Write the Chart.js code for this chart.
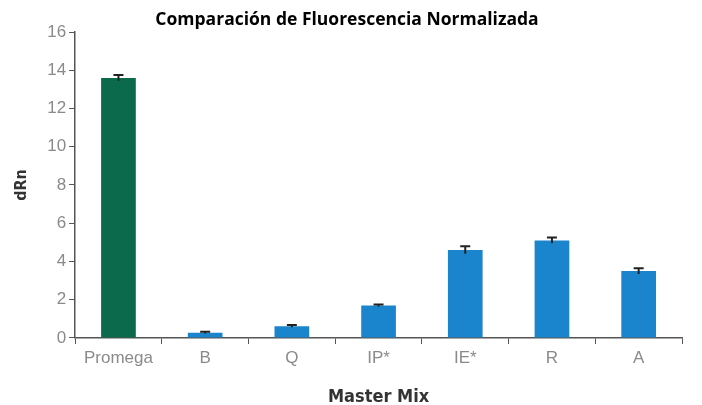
<!DOCTYPE html>
<html>
<head>
<meta charset="utf-8">
<script src="https://cdn.jsdelivr.net/npm/chart.js@4/dist/chart.umd.min.js"></script>
<style>
  html, body { margin: 0; padding: 0; background: #fff; }
  #wrap { width: 702px; height: 405px; position: relative; }
</style>
</head>
<body>
<div id="wrap"><canvas id="chart"></canvas></div>
<script>
// Datos
const mezclas = ['Promega', 'B', 'Q', 'IP*', 'IE*', 'R', 'A'];
const drn = [13.6, 0.28, 0.62, 1.7, 4.6, 5.1, 3.5];
const errores = [0.15, 0.04, 0.06, 0.05, 0.2, 0.15, 0.15];
const ticksY = [0, 2, 4, 6, 8, 10, 12, 14, 16];

const verde = '#0b6a4b';
const azul = '#1a84cc';
const gris = '#8a8a8a';
const estrecha = '"Liberation Sans Narrow", "DejaVu Sans Condensed", "Liberation Sans", sans-serif';

// Barras de error dibujadas con la escala Y
const barrasError = {
    id: 'barrasError',
    afterDatasetsDraw(chart) {
        const ctx = chart.ctx;
        const y = chart.scales.y;
        const meta = chart.getDatasetMeta(0);
        ctx.save();
        ctx.strokeStyle = '#222';
        ctx.lineWidth = 2;
        meta.data.forEach((bar, i) => {
            const top = y.getPixelForValue(drn[i] + errores[i]);
            const bot = y.getPixelForValue(drn[i] - errores[i]);
            ctx.beginPath();
            ctx.moveTo(bar.x, top);
            ctx.lineTo(bar.x, bot);
            ctx.moveTo(bar.x - 5, top);
            ctx.lineTo(bar.x + 5, top);
            ctx.stroke();
        });
        ctx.restore();
    }
};

const ctx = document.getElementById('chart').getContext('2d');
new Chart(ctx, {
    type: 'bar',
    data: {
        labels: mezclas,
        datasets: [{
            label: 'dRn',
            data: drn,
            backgroundColor: mezclas.map((m, i) => i === 0 ? verde : azul),
            barPercentage: 0.4,
            categoryPercentage: 1.0,
            borderWidth: 0
        }]
    },
    options: {
        responsive: true,
        maintainAspectRatio: false,
        animation: false,
        layout: { padding: { left: 12, right: 20, top: 0, bottom: 0 } },
        plugins: {
            legend: { display: false },
            tooltip: { enabled: false },
            title: {
                display: true,
                text: 'Comparación de Fluorescencia Normalizada',
                font: { family: 'Open Sans', size: 17.5, weight: 'bold' },
                color: '#000',
                padding: { top: 10, bottom: 1 }
            }
        },
        scales: {
            x: {
                grid: { display: true, drawOnChartArea: false, tickLength: 6, color: '#555', offset: true },
                border: { color: '#555', width: 1.5 },
                ticks: { color: gris, font: { family: 'Liberation Sans', size: 17 }, padding: 4 },
                title: {
                    display: true,
                    text: 'Master Mix',
                    color: '#333',
                    font: { family: estrecha, size: 18, weight: 'bold', lineHeight: 0.867 },
                    padding: { top: 17, bottom: 0 }
                }
            },
            y: {
                min: 0,
                max: 16,
                afterBuildTicks: (scale) => { scale.ticks = ticksY.map(v => ({ value: v })); },
                grid: { display: true, drawOnChartArea: false, tickLength: 6, color: '#555' },
                border: { color: '#555', width: 1.5 },
                ticks: { color: gris, font: { family: 'Liberation Sans', size: 17 }, padding: 3 },
                title: {
                    display: true,
                    text: 'dRn',
                    color: '#333',
                    font: { family: estrecha, size: 16, weight: 'bold' },
                    padding: { top: 0, bottom: 13 }
                }
            }
        }
    },
    plugins: [barrasError]
});
</script>
</body>
</html>
